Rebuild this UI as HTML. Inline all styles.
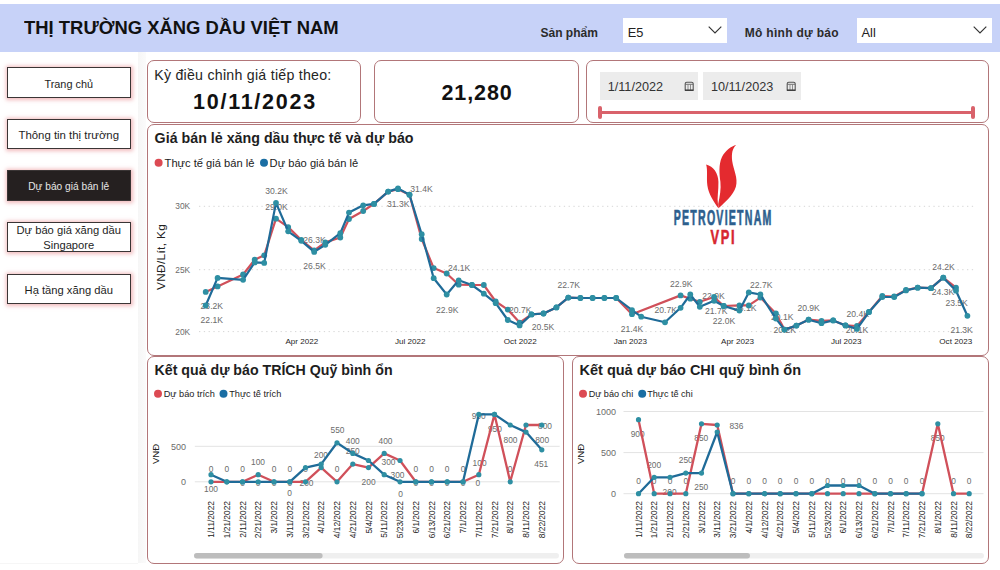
<!DOCTYPE html><html><head><meta charset="utf-8"><style>
*{margin:0;padding:0;box-sizing:border-box}
html,body{width:1000px;height:570px;overflow:hidden;background:#fff;font-family:'Liberation Sans',sans-serif;}
.abs{position:absolute}
.card{position:absolute;border:1px solid #b27679;border-radius:7px;background:#fff}
.btn{position:absolute;left:6.5px;width:124.5px;border:1.3px solid #3a3535;background:#fff;box-shadow:0 0 4px 1.5px rgba(232,140,145,.6);color:#1e1e1e;text-align:center;white-space:nowrap}
.t{position:absolute;white-space:nowrap;line-height:1}
</style></head><body>

<div class="abs" style="left:0;top:4px;width:1000px;height:48px;background:#c7d2f8"></div>
<div class="t" style="left:23.5px;top:18px;font-size:19px;font-weight:bold;color:#111;transform:scaleX(0.97);transform-origin:0 0">THỊ TRƯỜNG XĂNG DẦU VIỆT NAM</div>
<div class="t" style="left:540.5px;top:27px;font-size:12px;font-weight:bold;color:#2b2b2b">Sản phẩm</div>
<div class="t" style="left:744.7px;top:27px;font-size:12px;font-weight:bold;color:#2b2b2b;letter-spacing:0.3px">Mô hình dự báo</div>
<div class="abs" style="left:623px;top:17.5px;width:103.5px;height:25px;background:#fff"></div>
<div class="t" style="left:627.8px;top:27px;font-size:12.8px;color:#222">E5</div>
<svg class="abs" style="left:707.5px;top:26px" width="14" height="8"><path d="M0.7 0.7 L7 7 L13.3 0.7" fill="none" stroke="#333" stroke-width="1.15"/></svg>
<div class="abs" style="left:856.7px;top:17.5px;width:134.89999999999998px;height:25px;background:#fff"></div>
<div class="t" style="left:861.5px;top:27px;font-size:12.8px;color:#222">All</div>
<svg class="abs" style="left:972.6px;top:26px" width="14" height="8"><path d="M0.7 0.7 L7 7 L13.3 0.7" fill="none" stroke="#333" stroke-width="1.15"/></svg>
<div class="abs" style="left:137.5px;top:52px;width:8px;height:511px;background:linear-gradient(90deg,#f6f6f6,#fbfbfb)"></div>
<div class="abs" style="left:0;top:562.5px;width:137.5px;height:1.5px;background:#f6f6f6"></div>
<div class="btn" style="top:67px;height:31px;font-size:10.9px;"><div style="padding-top:9.5px">Trang chủ</div></div>
<div class="btn" style="top:118.8px;height:30.700000000000003px;font-size:11.4px;"><div style="padding-top:9px">Thông tin thị trường</div></div>
<div class="btn" style="top:170px;height:31px;font-size:10.2px;background:#252020;color:#e6e6e6;"><div style="padding-top:10px">Dự báo giá bán lẻ</div></div>
<div class="btn" style="top:222.3px;height:30.19999999999999px;font-size:11.2px;"><div style="padding-top:0px;line-height:15px">Dự báo giá xăng dầu<br>Singapore</div></div>
<div class="btn" style="top:273.5px;height:30.5px;font-size:11.2px;"><div style="padding-top:9px">Hạ tầng xăng dầu</div></div>
<div class="card" style="left:147.4px;top:60.4px;width:213.4px;height:62.4px"></div>
<div class="t" style="left:154.2px;top:67.5px;font-size:14.2px;color:#252525;letter-spacing:0.25px">Kỳ điều chỉnh giá tiếp theo:</div>
<div class="t" style="left:193px;top:92px;font-size:21.5px;font-weight:bold;color:#111;letter-spacing:1.75px">10/11/2023</div>
<div class="card" style="left:374.4px;top:60.4px;width:204.5px;height:62.4px"></div>
<div class="t" style="left:441.5px;top:83px;font-size:21.5px;font-weight:bold;color:#111;letter-spacing:0.9px">21,280</div>
<div class="card" style="left:586.4px;top:60.4px;width:402.4px;height:62.4px"></div>
<div class="abs" style="left:600px;top:72px;width:98.29999999999995px;height:28.2px;background:#ececec"></div>
<div class="t" style="left:607.7px;top:81.2px;font-size:12.66px;color:#333">1/11/2022</div>
<svg class="abs" style="left:683.5px;top:80.8px" width="11" height="11"><path d="M1.2 2.8 Q1.2 1.2 2.8 1.2 L7.6 1.2 Q9.2 1.2 9.2 2.8 L9.2 9.3 L1.2 9.3 Z" fill="none" stroke="#555" stroke-width="1.1"/><line x1="1.2" y1="3.3" x2="9.2" y2="3.3" stroke="#666" stroke-width="0.9"/><line x1="4" y1="3.5" x2="4" y2="9" stroke="#777" stroke-width="0.8"/><line x1="6.5" y1="3.5" x2="6.5" y2="9" stroke="#777" stroke-width="0.8"/><line x1="1" y1="9.2" x2="9.4" y2="9.2" stroke="#333" stroke-width="1.2"/></svg>
<div class="abs" style="left:703.2px;top:72px;width:97.39999999999998px;height:28.2px;background:#ececec"></div>
<div class="t" style="left:710.9000000000001px;top:81.2px;font-size:12.66px;color:#333">10/11/2023</div>
<svg class="abs" style="left:785.8000000000001px;top:80.8px" width="11" height="11"><path d="M1.2 2.8 Q1.2 1.2 2.8 1.2 L7.6 1.2 Q9.2 1.2 9.2 2.8 L9.2 9.3 L1.2 9.3 Z" fill="none" stroke="#555" stroke-width="1.1"/><line x1="1.2" y1="3.3" x2="9.2" y2="3.3" stroke="#666" stroke-width="0.9"/><line x1="4" y1="3.5" x2="4" y2="9" stroke="#777" stroke-width="0.8"/><line x1="6.5" y1="3.5" x2="6.5" y2="9" stroke="#777" stroke-width="0.8"/><line x1="1" y1="9.2" x2="9.4" y2="9.2" stroke="#333" stroke-width="1.2"/></svg>
<div class="abs" style="left:600px;top:111px;width:375px;height:3px;background:#d9626b"></div>
<div class="abs" style="left:598.2px;top:106.3px;width:4px;height:13px;border-radius:2px;background:#d9626b"></div>
<div class="abs" style="left:971.3px;top:106.3px;width:4px;height:13px;border-radius:2px;background:#d9626b"></div>
<div class="card" style="left:147.2px;top:124px;width:842.3px;height:232px"></div>
<div class="card" style="left:147.2px;top:356.3px;width:417.2px;height:207.7px"></div>
<div class="card" style="left:572.1px;top:356.3px;width:417.4px;height:207.7px"></div>
<div class="t" style="left:154.6px;top:130.5px;font-size:14.25px;font-weight:bold;color:#1e1e1e">Giá bán lẻ xăng dầu thực tế và dự báo</div>
<div class="t" style="left:154.5px;top:363.2px;font-size:14.2px;font-weight:bold;color:#1e1e1e">Kết quả dự báo TRÍCH Quỹ bình ổn</div>
<div class="t" style="left:579.5px;top:363.2px;font-size:14.5px;font-weight:bold;color:#1e1e1e">Kết quả dự báo CHI quỹ bình ổn</div>
<svg class="abs" style="left:0;top:0" width="1000" height="570" viewBox="0 0 1000 570" font-family="Liberation Sans, sans-serif"><circle cx="158.6" cy="162.8" r="4" fill="#dc4a53"/><text x="164.6" y="166.8" font-size="11.15" fill="#222">Thực tế giá bán lẻ</text><circle cx="264" cy="162.8" r="4" fill="#1a6ea3"/><text x="269.6" y="166.8" font-size="11.15" fill="#222">Dự báo giá bán lẻ</text><circle cx="158" cy="393.8" r="4" fill="#dc4a53"/><text x="163.7" y="397.1" font-size="9.2" fill="#222">Dự báo trích</text><circle cx="223.5" cy="393.8" r="4" fill="#1a6ea3"/><text x="229.2" y="397.1" font-size="9.2" fill="#222">Thực tế trích</text><circle cx="583" cy="393.8" r="4" fill="#dc4a53"/><text x="588.7" y="397.1" font-size="9.1" fill="#222">Dự báo chi</text><circle cx="642.2" cy="393.8" r="4" fill="#1a6ea3"/><text x="647.2" y="397.1" font-size="9.1" fill="#222">Thực tế chi</text><line x1="199" y1="206.3" x2="973.5" y2="206.3" stroke="#d6d6d6" stroke-width="1" stroke-dasharray="1.3 3.5"/><text x="190.2" y="209.3" font-size="8.4" fill="#6b6b6b" text-anchor="end">30K</text><line x1="199" y1="269.7" x2="973.5" y2="269.7" stroke="#d6d6d6" stroke-width="1" stroke-dasharray="1.3 3.5"/><text x="190.2" y="272.7" font-size="8.4" fill="#6b6b6b" text-anchor="end">25K</text><line x1="199" y1="331.6" x2="973.5" y2="331.6" stroke="#d6d6d6" stroke-width="1" stroke-dasharray="1.3 3.5"/><text x="190.2" y="334.6" font-size="8.4" fill="#6b6b6b" text-anchor="end">20K</text><text transform="translate(165 257) rotate(-90)" font-size="11.8" letter-spacing="0.35" fill="#222" text-anchor="middle">VNĐ/Lít, Kg</text><text x="285.4" y="343.7" font-size="8.1" fill="#1e1e1e">Apr 2022</text><text x="395" y="343.7" font-size="8.1" fill="#1e1e1e">Jul 2022</text><text x="503.8" y="343.7" font-size="8.1" fill="#1e1e1e">Oct 2022</text><text x="613.8" y="343.7" font-size="8.1" fill="#1e1e1e">Jan 2023</text><text x="721.1" y="343.7" font-size="8.1" fill="#1e1e1e">Apr 2023</text><text x="831" y="343.7" font-size="8.1" fill="#1e1e1e">Jul 2023</text><text x="939.3" y="343.7" font-size="8.1" fill="#1e1e1e">Oct 2023</text><text x="265.3" y="194.2" font-size="8.6" fill="#6b6b6b">30.2K</text><text x="265.3" y="210" font-size="8.6" fill="#6b6b6b">29.0K</text><text x="303.2" y="243.2" font-size="8.6" fill="#6b6b6b">26.3K</text><text x="303.2" y="268.5" font-size="8.6" fill="#6b6b6b">26.5K</text><text x="200.6" y="309" font-size="8.6" fill="#6b6b6b">23.2K</text><text x="200.6" y="323.3" font-size="8.6" fill="#6b6b6b">22.1K</text><text x="410.3" y="192.4" font-size="8.6" fill="#6b6b6b">31.4K</text><text x="387" y="207.4" font-size="8.6" fill="#6b6b6b">31.3K</text><text x="447.9" y="271.3" font-size="8.6" fill="#6b6b6b">24.1K</text><text x="436" y="312.7" font-size="8.6" fill="#6b6b6b">22.9K</text><text x="509" y="312.8" font-size="8.6" fill="#6b6b6b">20.7K</text><text x="531.8" y="329.9" font-size="8.6" fill="#6b6b6b">20.5K</text><text x="557.5" y="288.2" font-size="8.6" fill="#6b6b6b">22.7K</text><text x="620.8" y="332.4" font-size="8.6" fill="#6b6b6b">21.4K</text><text x="654.5" y="312.8" font-size="8.6" fill="#6b6b6b">20.7K</text><text x="670" y="286.8" font-size="8.6" fill="#6b6b6b">22.9K</text><text x="702.2" y="298.7" font-size="8.6" fill="#6b6b6b">22.9K</text><text x="705" y="314.4" font-size="8.6" fill="#6b6b6b">21.7K</text><text x="712.7" y="324.2" font-size="8.6" fill="#6b6b6b">22.0K</text><text x="734" y="310.6" font-size="8.6" fill="#6b6b6b">23.1K</text><text x="750" y="288.2" font-size="8.6" fill="#6b6b6b">22.7K</text><text x="771" y="320.4" font-size="8.6" fill="#6b6b6b">20.1K</text><text x="773.5" y="333" font-size="8.6" fill="#6b6b6b">20.2K</text><text x="797.4" y="311.3" font-size="8.6" fill="#6b6b6b">20.9K</text><text x="846.5" y="317" font-size="8.6" fill="#6b6b6b">20.4K</text><text x="845.8" y="333" font-size="8.6" fill="#6b6b6b">20.1K</text><text x="932.3" y="269.6" font-size="8.6" fill="#6b6b6b">24.2K</text><text x="931.8" y="295.3" font-size="8.6" fill="#6b6b6b">24.3K</text><text x="945.4" y="305.8" font-size="8.6" fill="#6b6b6b">23.5K</text><text x="950.4" y="333.3" font-size="8.6" fill="#6b6b6b">21.3K</text><polyline points="205.7,291.9 217.6,286.4 243.1,274.5 254.7,259.7 264.2,255.3 276.0,218.7 288.2,227.1 301.3,240.0 314.2,250.3 325.3,242.4 340.3,237.5 349.0,219.0 363.2,211.0 374.0,203.9 388.2,191.6 398.0,189.2 409.5,194.7 421.7,239.0 433.7,268.1 446.7,273.5 458.7,284.7 471.9,285.0 483.8,285.0 495.7,301.5 507.8,309.6 519.6,322.6 531.5,314.4 543.5,313.5 556.4,307.4 568.3,297.6 580.4,298.0 592.6,298.0 604.4,298.0 616.2,298.0 632.0,314.2 680.6,295.4 690.3,298.7 699.8,301.8 714.1,297.0 723.7,306.0 739.4,305.4 748.8,305.4 760.4,297.6 775.9,313.4 784.5,329.6 796.4,325.6 808.6,319.7 821.5,320.9 833.2,320.4 845.5,325.4 857.0,326.0 869.0,312.0 882.3,296.0 894.2,296.5 906.0,290.0 917.7,287.7 931.0,288.2 943.3,277.7 956.0,287.7" fill="none" stroke="#d0505a" stroke-width="2.2" stroke-linejoin="round" stroke-linecap="round"/><circle cx="205.7" cy="291.9" r="2.9" fill="#2e8fa3"/><circle cx="217.6" cy="286.4" r="2.9" fill="#2e8fa3"/><circle cx="243.1" cy="274.5" r="2.9" fill="#2e8fa3"/><circle cx="254.7" cy="259.7" r="2.9" fill="#2e8fa3"/><circle cx="264.2" cy="255.3" r="2.9" fill="#2e8fa3"/><circle cx="276.0" cy="218.7" r="2.9" fill="#2e8fa3"/><circle cx="288.2" cy="227.1" r="2.9" fill="#2e8fa3"/><circle cx="301.3" cy="240.0" r="2.9" fill="#2e8fa3"/><circle cx="314.2" cy="250.3" r="2.9" fill="#2e8fa3"/><circle cx="325.3" cy="242.4" r="2.9" fill="#2e8fa3"/><circle cx="340.3" cy="237.5" r="2.9" fill="#2e8fa3"/><circle cx="349.0" cy="219.0" r="2.9" fill="#2e8fa3"/><circle cx="363.2" cy="211.0" r="2.9" fill="#2e8fa3"/><circle cx="374.0" cy="203.9" r="2.9" fill="#2e8fa3"/><circle cx="388.2" cy="191.6" r="2.9" fill="#2e8fa3"/><circle cx="398.0" cy="189.2" r="2.9" fill="#2e8fa3"/><circle cx="409.5" cy="194.7" r="2.9" fill="#2e8fa3"/><circle cx="421.7" cy="239.0" r="2.9" fill="#2e8fa3"/><circle cx="433.7" cy="268.1" r="2.9" fill="#2e8fa3"/><circle cx="446.7" cy="273.5" r="2.9" fill="#2e8fa3"/><circle cx="458.7" cy="284.7" r="2.9" fill="#2e8fa3"/><circle cx="471.9" cy="285.0" r="2.9" fill="#2e8fa3"/><circle cx="483.8" cy="285.0" r="2.9" fill="#2e8fa3"/><circle cx="495.7" cy="301.5" r="2.9" fill="#2e8fa3"/><circle cx="507.8" cy="309.6" r="2.9" fill="#2e8fa3"/><circle cx="519.6" cy="322.6" r="2.9" fill="#2e8fa3"/><circle cx="531.5" cy="314.4" r="2.9" fill="#2e8fa3"/><circle cx="543.5" cy="313.5" r="2.9" fill="#2e8fa3"/><circle cx="556.4" cy="307.4" r="2.9" fill="#2e8fa3"/><circle cx="568.3" cy="297.6" r="2.9" fill="#2e8fa3"/><circle cx="580.4" cy="298.0" r="2.9" fill="#2e8fa3"/><circle cx="592.6" cy="298.0" r="2.9" fill="#2e8fa3"/><circle cx="604.4" cy="298.0" r="2.9" fill="#2e8fa3"/><circle cx="616.2" cy="298.0" r="2.9" fill="#2e8fa3"/><circle cx="632.0" cy="314.2" r="2.9" fill="#2e8fa3"/><circle cx="680.6" cy="295.4" r="2.9" fill="#2e8fa3"/><circle cx="690.3" cy="298.7" r="2.9" fill="#2e8fa3"/><circle cx="699.8" cy="301.8" r="2.9" fill="#2e8fa3"/><circle cx="714.1" cy="297.0" r="2.9" fill="#2e8fa3"/><circle cx="723.7" cy="306.0" r="2.9" fill="#2e8fa3"/><circle cx="739.4" cy="305.4" r="2.9" fill="#2e8fa3"/><circle cx="748.8" cy="305.4" r="2.9" fill="#2e8fa3"/><circle cx="760.4" cy="297.6" r="2.9" fill="#2e8fa3"/><circle cx="775.9" cy="313.4" r="2.9" fill="#2e8fa3"/><circle cx="784.5" cy="329.6" r="2.9" fill="#2e8fa3"/><circle cx="796.4" cy="325.6" r="2.9" fill="#2e8fa3"/><circle cx="808.6" cy="319.7" r="2.9" fill="#2e8fa3"/><circle cx="821.5" cy="320.9" r="2.9" fill="#2e8fa3"/><circle cx="833.2" cy="320.4" r="2.9" fill="#2e8fa3"/><circle cx="845.5" cy="325.4" r="2.9" fill="#2e8fa3"/><circle cx="857.0" cy="326.0" r="2.9" fill="#2e8fa3"/><circle cx="869.0" cy="312.0" r="2.9" fill="#2e8fa3"/><circle cx="882.3" cy="296.0" r="2.9" fill="#2e8fa3"/><circle cx="894.2" cy="296.5" r="2.9" fill="#2e8fa3"/><circle cx="906.0" cy="290.0" r="2.9" fill="#2e8fa3"/><circle cx="917.7" cy="287.7" r="2.9" fill="#2e8fa3"/><circle cx="931.0" cy="288.2" r="2.9" fill="#2e8fa3"/><circle cx="943.3" cy="277.7" r="2.9" fill="#2e8fa3"/><circle cx="956.0" cy="287.7" r="2.9" fill="#2e8fa3"/><polyline points="205.7,305.5 217.6,277.9 243.1,279.8 254.7,262.4 264.2,262.9 276.0,202.9 288.2,231.3 301.3,240.8 314.2,251.9 325.3,244.8 340.3,233.2 349.0,212.6 363.2,205.3 374.0,203.9 388.2,191.6 398.0,188.4 409.5,194.7 421.7,234.2 433.7,278.2 446.7,294.5 458.7,280.3 471.9,285.0 483.8,293.7 495.7,303.2 507.8,320.0 519.6,325.4 531.5,314.4 543.5,313.5 556.4,307.4 568.3,297.6 580.4,298.0 592.6,298.0 604.4,298.0 616.2,298.0 632.0,310.2 641.2,316.7 665.0,322.3 680.6,307.8 690.3,294.5 699.8,306.8 714.1,300.8 723.7,306.0 739.4,310.6 748.8,292.4 760.4,294.5 775.9,318.6 784.5,329.6 796.4,325.6 808.6,319.7 821.5,323.2 833.2,320.4 845.5,325.4 857.0,328.9 869.0,312.0 882.3,297.0 894.2,297.0 906.0,290.4 917.7,287.7 931.0,288.2 943.3,277.7 956.0,290.7 967.4,315.8" fill="none" stroke="#1f6b98" stroke-width="2.2" stroke-linejoin="round" stroke-linecap="round"/><circle cx="205.7" cy="305.5" r="2.9" fill="#2e8fa3"/><circle cx="217.6" cy="277.9" r="2.9" fill="#2e8fa3"/><circle cx="243.1" cy="279.8" r="2.9" fill="#2e8fa3"/><circle cx="254.7" cy="262.4" r="2.9" fill="#2e8fa3"/><circle cx="264.2" cy="262.9" r="2.9" fill="#2e8fa3"/><circle cx="276.0" cy="202.9" r="2.9" fill="#2e8fa3"/><circle cx="288.2" cy="231.3" r="2.9" fill="#2e8fa3"/><circle cx="301.3" cy="240.8" r="2.9" fill="#2e8fa3"/><circle cx="314.2" cy="251.9" r="2.9" fill="#2e8fa3"/><circle cx="325.3" cy="244.8" r="2.9" fill="#2e8fa3"/><circle cx="340.3" cy="233.2" r="2.9" fill="#2e8fa3"/><circle cx="349.0" cy="212.6" r="2.9" fill="#2e8fa3"/><circle cx="363.2" cy="205.3" r="2.9" fill="#2e8fa3"/><circle cx="374.0" cy="203.9" r="2.9" fill="#2e8fa3"/><circle cx="388.2" cy="191.6" r="2.9" fill="#2e8fa3"/><circle cx="398.0" cy="188.4" r="2.9" fill="#2e8fa3"/><circle cx="409.5" cy="194.7" r="2.9" fill="#2e8fa3"/><circle cx="421.7" cy="234.2" r="2.9" fill="#2e8fa3"/><circle cx="433.7" cy="278.2" r="2.9" fill="#2e8fa3"/><circle cx="446.7" cy="294.5" r="2.9" fill="#2e8fa3"/><circle cx="458.7" cy="280.3" r="2.9" fill="#2e8fa3"/><circle cx="471.9" cy="285.0" r="2.9" fill="#2e8fa3"/><circle cx="483.8" cy="293.7" r="2.9" fill="#2e8fa3"/><circle cx="495.7" cy="303.2" r="2.9" fill="#2e8fa3"/><circle cx="507.8" cy="320.0" r="2.9" fill="#2e8fa3"/><circle cx="519.6" cy="325.4" r="2.9" fill="#2e8fa3"/><circle cx="531.5" cy="314.4" r="2.9" fill="#2e8fa3"/><circle cx="543.5" cy="313.5" r="2.9" fill="#2e8fa3"/><circle cx="556.4" cy="307.4" r="2.9" fill="#2e8fa3"/><circle cx="568.3" cy="297.6" r="2.9" fill="#2e8fa3"/><circle cx="580.4" cy="298.0" r="2.9" fill="#2e8fa3"/><circle cx="592.6" cy="298.0" r="2.9" fill="#2e8fa3"/><circle cx="604.4" cy="298.0" r="2.9" fill="#2e8fa3"/><circle cx="616.2" cy="298.0" r="2.9" fill="#2e8fa3"/><circle cx="632.0" cy="310.2" r="2.9" fill="#2e8fa3"/><circle cx="641.2" cy="316.7" r="2.9" fill="#2e8fa3"/><circle cx="665.0" cy="322.3" r="2.9" fill="#2e8fa3"/><circle cx="680.6" cy="307.8" r="2.9" fill="#2e8fa3"/><circle cx="690.3" cy="294.5" r="2.9" fill="#2e8fa3"/><circle cx="699.8" cy="306.8" r="2.9" fill="#2e8fa3"/><circle cx="714.1" cy="300.8" r="2.9" fill="#2e8fa3"/><circle cx="723.7" cy="306.0" r="2.9" fill="#2e8fa3"/><circle cx="739.4" cy="310.6" r="2.9" fill="#2e8fa3"/><circle cx="748.8" cy="292.4" r="2.9" fill="#2e8fa3"/><circle cx="760.4" cy="294.5" r="2.9" fill="#2e8fa3"/><circle cx="775.9" cy="318.6" r="2.9" fill="#2e8fa3"/><circle cx="784.5" cy="329.6" r="2.9" fill="#2e8fa3"/><circle cx="796.4" cy="325.6" r="2.9" fill="#2e8fa3"/><circle cx="808.6" cy="319.7" r="2.9" fill="#2e8fa3"/><circle cx="821.5" cy="323.2" r="2.9" fill="#2e8fa3"/><circle cx="833.2" cy="320.4" r="2.9" fill="#2e8fa3"/><circle cx="845.5" cy="325.4" r="2.9" fill="#2e8fa3"/><circle cx="857.0" cy="328.9" r="2.9" fill="#2e8fa3"/><circle cx="869.0" cy="312.0" r="2.9" fill="#2e8fa3"/><circle cx="882.3" cy="297.0" r="2.9" fill="#2e8fa3"/><circle cx="894.2" cy="297.0" r="2.9" fill="#2e8fa3"/><circle cx="906.0" cy="290.4" r="2.9" fill="#2e8fa3"/><circle cx="917.7" cy="287.7" r="2.9" fill="#2e8fa3"/><circle cx="931.0" cy="288.2" r="2.9" fill="#2e8fa3"/><circle cx="943.3" cy="277.7" r="2.9" fill="#2e8fa3"/><circle cx="956.0" cy="290.7" r="2.9" fill="#2e8fa3"/><circle cx="967.4" cy="315.8" r="2.9" fill="#2e8fa3"/><g transform="translate(700 140) scale(0.12285)"><path d="M295,38 C255,50 205,85 178,140 C150,200 158,280 166,340 C172,400 162,460 148,520 L150,556 C200,510 270,450 292,380 C312,310 272,240 262,170 C256,110 262,70 295,38 Z" fill="#e42a2f"/><path d="M50,200 C64,250 52,310 60,370 C70,440 110,500 150,556 L146,520 C138,470 152,410 150,340 C148,270 110,215 50,200 Z" fill="#e42a2f"/></g><text transform="translate(673.7 225) scale(0.493 1)" font-size="21.5" letter-spacing="2.5" font-weight="bold" fill="#2d5f8e" stroke="#2d5f8e" stroke-width="0.7">PETROVIETNAM</text><text transform="translate(710.5 244.2) scale(0.645 1)" font-size="20" letter-spacing="2.5" font-weight="bold" fill="#d7262f" stroke="#d7262f" stroke-width="0.6">VPI</text><line x1="194.8" y1="481.8" x2="559.7" y2="481.8" stroke="#e3e3e3" stroke-width="1"/><text x="186" y="485.0" font-size="9" fill="#6b6b6b" text-anchor="end">0</text><line x1="194.8" y1="446.3" x2="559.7" y2="446.3" stroke="#e3e3e3" stroke-width="1"/><text x="186" y="449.5" font-size="9" fill="#6b6b6b" text-anchor="end">500</text><text transform="translate(158.5 453.9) rotate(-90)" font-size="9.6" fill="#222" text-anchor="middle">VNĐ</text><text transform="translate(214.0 501) rotate(-90)" font-size="8.4" fill="#222" text-anchor="end">1/11/2022</text><text transform="translate(229.8 501) rotate(-90)" font-size="8.4" fill="#222" text-anchor="end">1/21/2022</text><text transform="translate(245.5 501) rotate(-90)" font-size="8.4" fill="#222" text-anchor="end">2/11/2022</text><text transform="translate(261.2 501) rotate(-90)" font-size="8.4" fill="#222" text-anchor="end">2/21/2022</text><text transform="translate(277.0 501) rotate(-90)" font-size="8.4" fill="#222" text-anchor="end">3/1/2022</text><text transform="translate(292.8 501) rotate(-90)" font-size="8.4" fill="#222" text-anchor="end">3/11/2022</text><text transform="translate(308.5 501) rotate(-90)" font-size="8.4" fill="#222" text-anchor="end">3/21/2022</text><text transform="translate(324.2 501) rotate(-90)" font-size="8.4" fill="#222" text-anchor="end">4/1/2022</text><text transform="translate(340.0 501) rotate(-90)" font-size="8.4" fill="#222" text-anchor="end">4/12/2022</text><text transform="translate(355.8 501) rotate(-90)" font-size="8.4" fill="#222" text-anchor="end">4/21/2022</text><text transform="translate(371.5 501) rotate(-90)" font-size="8.4" fill="#222" text-anchor="end">5/4/2022</text><text transform="translate(387.2 501) rotate(-90)" font-size="8.4" fill="#222" text-anchor="end">5/11/2022</text><text transform="translate(403.0 501) rotate(-90)" font-size="8.4" fill="#222" text-anchor="end">5/23/2022</text><text transform="translate(418.8 501) rotate(-90)" font-size="8.4" fill="#222" text-anchor="end">6/1/2022</text><text transform="translate(434.5 501) rotate(-90)" font-size="8.4" fill="#222" text-anchor="end">6/13/2022</text><text transform="translate(450.2 501) rotate(-90)" font-size="8.4" fill="#222" text-anchor="end">6/21/2022</text><text transform="translate(466.0 501) rotate(-90)" font-size="8.4" fill="#222" text-anchor="end">7/1/2022</text><text transform="translate(481.8 501) rotate(-90)" font-size="8.4" fill="#222" text-anchor="end">7/11/2022</text><text transform="translate(497.5 501) rotate(-90)" font-size="8.4" fill="#222" text-anchor="end">7/21/2022</text><text transform="translate(513.2 501) rotate(-90)" font-size="8.4" fill="#222" text-anchor="end">8/1/2022</text><text transform="translate(529.0 501) rotate(-90)" font-size="8.4" fill="#222" text-anchor="end">8/11/2022</text><text transform="translate(544.8 501) rotate(-90)" font-size="8.4" fill="#222" text-anchor="end">8/22/2022</text><text x="211.0" y="471.7" font-size="8.4" fill="#6b6b6b" text-anchor="middle">0</text><text x="226.8" y="471.7" font-size="8.4" fill="#6b6b6b" text-anchor="middle">0</text><text x="242.5" y="471.7" font-size="8.4" fill="#6b6b6b" text-anchor="middle">0</text><text x="274.0" y="471.7" font-size="8.4" fill="#6b6b6b" text-anchor="middle">0</text><text x="289.8" y="471.7" font-size="8.4" fill="#6b6b6b" text-anchor="middle">0</text><text x="305.5" y="471.7" font-size="8.4" fill="#6b6b6b" text-anchor="middle">0</text><text x="337.0" y="471.7" font-size="8.4" fill="#6b6b6b" text-anchor="middle">0</text><text x="415.8" y="471.7" font-size="8.4" fill="#6b6b6b" text-anchor="middle">0</text><text x="431.5" y="471.7" font-size="8.4" fill="#6b6b6b" text-anchor="middle">0</text><text x="447.2" y="471.7" font-size="8.4" fill="#6b6b6b" text-anchor="middle">0</text><text x="463.0" y="471.7" font-size="8.4" fill="#6b6b6b" text-anchor="middle">0</text><text x="242.5" y="485.7" font-size="8.4" fill="#6b6b6b" text-anchor="middle">0</text><text x="258.2" y="485.7" font-size="8.4" fill="#6b6b6b" text-anchor="middle">0</text><text x="274.0" y="485.7" font-size="8.4" fill="#6b6b6b" text-anchor="middle">0</text><text x="289.8" y="485.7" font-size="8.4" fill="#6b6b6b" text-anchor="middle">0</text><text x="415.8" y="485.7" font-size="8.4" fill="#6b6b6b" text-anchor="middle">0</text><text x="431.5" y="485.7" font-size="8.4" fill="#6b6b6b" text-anchor="middle">0</text><text x="447.2" y="485.7" font-size="8.4" fill="#6b6b6b" text-anchor="middle">0</text><text x="463.0" y="485.7" font-size="8.4" fill="#6b6b6b" text-anchor="middle">0</text><text x="211" y="492.3" font-size="8.4" fill="#6b6b6b" text-anchor="middle">100</text><text x="289.5" y="496.2" font-size="8.4" fill="#6b6b6b" text-anchor="middle">0</text><text x="258" y="465" font-size="8.4" fill="#6b6b6b" text-anchor="middle">100</text><text x="306.5" y="485.7" font-size="8.4" fill="#6b6b6b" text-anchor="middle">200</text><text x="321" y="458.2" font-size="8.4" fill="#6b6b6b" text-anchor="middle">200</text><text x="337.5" y="433.2" font-size="8.4" fill="#6b6b6b" text-anchor="middle">550</text><text x="352.8" y="443.9" font-size="8.4" fill="#6b6b6b" text-anchor="middle">400</text><text x="352.8" y="454.4" font-size="8.4" fill="#6b6b6b" text-anchor="middle">250</text><text x="368.6" y="485" font-size="8.4" fill="#6b6b6b" text-anchor="middle">200</text><text x="397.5" y="478" font-size="8.4" fill="#6b6b6b" text-anchor="middle">300</text><text x="385.5" y="443.9" font-size="8.4" fill="#6b6b6b" text-anchor="middle">400</text><text x="388.5" y="465" font-size="8.4" fill="#6b6b6b" text-anchor="middle">300</text><text x="400.5" y="496.5" font-size="8.4" fill="#6b6b6b" text-anchor="middle">0</text><text x="478.7" y="419" font-size="8.4" fill="#6b6b6b" text-anchor="middle">950</text><text x="479.6" y="465.5" font-size="8.4" fill="#6b6b6b" text-anchor="middle">100</text><text x="477.8" y="486.2" font-size="8.4" fill="#6b6b6b" text-anchor="middle">0</text><text x="494.9" y="431.5" font-size="8.4" fill="#6b6b6b" text-anchor="middle">950</text><text x="510.5" y="442.5" font-size="8.4" fill="#6b6b6b" text-anchor="middle">800</text><text x="510" y="472.3" font-size="8.4" fill="#6b6b6b" text-anchor="middle">0</text><text x="545" y="429" font-size="8.4" fill="#6b6b6b" text-anchor="middle">800</text><text x="542.2" y="442.5" font-size="8.4" fill="#6b6b6b" text-anchor="middle">800</text><text x="541.3" y="467.2" font-size="8.4" fill="#6b6b6b" text-anchor="middle">451</text><polyline points="211.0,481.8 226.8,481.8 242.5,481.8 258.2,474.7 274.0,481.8 289.8,481.8 305.5,481.8 321.2,467.6 337.0,481.8 352.8,464.1 368.5,467.6 384.2,453.4 400.0,460.5 415.8,481.8 431.5,481.8 447.2,481.8 463.0,481.8 478.8,474.7 494.5,414.4 510.2,481.8 526.0,425.0 541.8,425.0" fill="none" stroke="#d0505a" stroke-width="2.3" stroke-linejoin="round" stroke-linecap="round"/><circle cx="211.0" cy="481.8" r="2.6" fill="#2e8fa3"/><circle cx="226.8" cy="481.8" r="2.6" fill="#2e8fa3"/><circle cx="242.5" cy="481.8" r="2.6" fill="#2e8fa3"/><circle cx="258.2" cy="474.7" r="2.6" fill="#2e8fa3"/><circle cx="274.0" cy="481.8" r="2.6" fill="#2e8fa3"/><circle cx="289.8" cy="481.8" r="2.6" fill="#2e8fa3"/><circle cx="305.5" cy="481.8" r="2.6" fill="#2e8fa3"/><circle cx="321.2" cy="467.6" r="2.6" fill="#2e8fa3"/><circle cx="337.0" cy="481.8" r="2.6" fill="#2e8fa3"/><circle cx="352.8" cy="464.1" r="2.6" fill="#2e8fa3"/><circle cx="368.5" cy="467.6" r="2.6" fill="#2e8fa3"/><circle cx="384.2" cy="453.4" r="2.6" fill="#2e8fa3"/><circle cx="400.0" cy="460.5" r="2.6" fill="#2e8fa3"/><circle cx="415.8" cy="481.8" r="2.6" fill="#2e8fa3"/><circle cx="431.5" cy="481.8" r="2.6" fill="#2e8fa3"/><circle cx="447.2" cy="481.8" r="2.6" fill="#2e8fa3"/><circle cx="463.0" cy="481.8" r="2.6" fill="#2e8fa3"/><circle cx="478.8" cy="474.7" r="2.6" fill="#2e8fa3"/><circle cx="494.5" cy="414.4" r="2.6" fill="#2e8fa3"/><circle cx="510.2" cy="481.8" r="2.6" fill="#2e8fa3"/><circle cx="526.0" cy="425.0" r="2.6" fill="#2e8fa3"/><circle cx="541.8" cy="425.0" r="2.6" fill="#2e8fa3"/><polyline points="211.0,474.7 226.8,481.8 242.5,481.8 258.2,481.8 274.0,481.8 289.8,481.8 305.5,467.6 321.2,464.1 337.0,442.8 352.8,453.4 368.5,460.5 384.2,474.7 400.0,481.8 415.8,481.8 431.5,481.8 447.2,481.8 463.0,481.8 478.8,414.4 494.5,414.4 510.2,425.0 526.0,432.1 541.8,449.8" fill="none" stroke="#1f6b98" stroke-width="2.3" stroke-linejoin="round" stroke-linecap="round"/><circle cx="211.0" cy="474.7" r="2.6" fill="#2e8fa3"/><circle cx="226.8" cy="481.8" r="2.6" fill="#2e8fa3"/><circle cx="242.5" cy="481.8" r="2.6" fill="#2e8fa3"/><circle cx="258.2" cy="481.8" r="2.6" fill="#2e8fa3"/><circle cx="274.0" cy="481.8" r="2.6" fill="#2e8fa3"/><circle cx="289.8" cy="481.8" r="2.6" fill="#2e8fa3"/><circle cx="305.5" cy="467.6" r="2.6" fill="#2e8fa3"/><circle cx="321.2" cy="464.1" r="2.6" fill="#2e8fa3"/><circle cx="337.0" cy="442.8" r="2.6" fill="#2e8fa3"/><circle cx="352.8" cy="453.4" r="2.6" fill="#2e8fa3"/><circle cx="368.5" cy="460.5" r="2.6" fill="#2e8fa3"/><circle cx="384.2" cy="474.7" r="2.6" fill="#2e8fa3"/><circle cx="400.0" cy="481.8" r="2.6" fill="#2e8fa3"/><circle cx="415.8" cy="481.8" r="2.6" fill="#2e8fa3"/><circle cx="431.5" cy="481.8" r="2.6" fill="#2e8fa3"/><circle cx="447.2" cy="481.8" r="2.6" fill="#2e8fa3"/><circle cx="463.0" cy="481.8" r="2.6" fill="#2e8fa3"/><circle cx="478.8" cy="414.4" r="2.6" fill="#2e8fa3"/><circle cx="494.5" cy="414.4" r="2.6" fill="#2e8fa3"/><circle cx="510.2" cy="425.0" r="2.6" fill="#2e8fa3"/><circle cx="526.0" cy="432.1" r="2.6" fill="#2e8fa3"/><circle cx="541.8" cy="449.8" r="2.6" fill="#2e8fa3"/><rect x="194" y="553" width="365" height="5.5" rx="2.75" fill="#efefef"/><rect x="194" y="553" width="128.60000000000002" height="5.5" rx="2.75" fill="#bdbdbd"/><line x1="623.5" y1="493.7" x2="983.5" y2="493.7" stroke="#e3e3e3" stroke-width="1"/><text x="616" y="496.9" font-size="9" fill="#6b6b6b" text-anchor="end">0</text><line x1="623.5" y1="452.6" x2="983.5" y2="452.6" stroke="#e3e3e3" stroke-width="1"/><text x="616" y="455.8" font-size="9" fill="#6b6b6b" text-anchor="end">500</text><line x1="623.5" y1="411.5" x2="983.5" y2="411.5" stroke="#e3e3e3" stroke-width="1"/><text x="616" y="414.7" font-size="9" fill="#6b6b6b" text-anchor="end">1000</text><text transform="translate(583.5 453.9) rotate(-90)" font-size="9.6" fill="#222" text-anchor="middle">VNĐ</text><text transform="translate(641.5 501) rotate(-90)" font-size="8.4" fill="#222" text-anchor="end">1/11/2022</text><text transform="translate(657.2 501) rotate(-90)" font-size="8.4" fill="#222" text-anchor="end">1/21/2022</text><text transform="translate(673.0 501) rotate(-90)" font-size="8.4" fill="#222" text-anchor="end">2/11/2022</text><text transform="translate(688.8 501) rotate(-90)" font-size="8.4" fill="#222" text-anchor="end">2/21/2022</text><text transform="translate(704.5 501) rotate(-90)" font-size="8.4" fill="#222" text-anchor="end">3/1/2022</text><text transform="translate(720.2 501) rotate(-90)" font-size="8.4" fill="#222" text-anchor="end">3/11/2022</text><text transform="translate(736.0 501) rotate(-90)" font-size="8.4" fill="#222" text-anchor="end">3/21/2022</text><text transform="translate(751.8 501) rotate(-90)" font-size="8.4" fill="#222" text-anchor="end">4/1/2022</text><text transform="translate(767.5 501) rotate(-90)" font-size="8.4" fill="#222" text-anchor="end">4/12/2022</text><text transform="translate(783.2 501) rotate(-90)" font-size="8.4" fill="#222" text-anchor="end">4/21/2022</text><text transform="translate(799.0 501) rotate(-90)" font-size="8.4" fill="#222" text-anchor="end">5/4/2022</text><text transform="translate(814.8 501) rotate(-90)" font-size="8.4" fill="#222" text-anchor="end">5/11/2022</text><text transform="translate(830.5 501) rotate(-90)" font-size="8.4" fill="#222" text-anchor="end">5/23/2022</text><text transform="translate(846.2 501) rotate(-90)" font-size="8.4" fill="#222" text-anchor="end">6/1/2022</text><text transform="translate(862.0 501) rotate(-90)" font-size="8.4" fill="#222" text-anchor="end">6/13/2022</text><text transform="translate(877.8 501) rotate(-90)" font-size="8.4" fill="#222" text-anchor="end">6/21/2022</text><text transform="translate(893.5 501) rotate(-90)" font-size="8.4" fill="#222" text-anchor="end">7/1/2022</text><text transform="translate(909.2 501) rotate(-90)" font-size="8.4" fill="#222" text-anchor="end">7/11/2022</text><text transform="translate(925.0 501) rotate(-90)" font-size="8.4" fill="#222" text-anchor="end">7/21/2022</text><text transform="translate(940.8 501) rotate(-90)" font-size="8.4" fill="#222" text-anchor="end">8/1/2022</text><text transform="translate(956.5 501) rotate(-90)" font-size="8.4" fill="#222" text-anchor="end">8/11/2022</text><text transform="translate(972.2 501) rotate(-90)" font-size="8.4" fill="#222" text-anchor="end">8/22/2022</text><text x="637.7" y="437.2" font-size="8.4" fill="#6b6b6b" text-anchor="middle">900</text><text x="654.2" y="467.6" font-size="8.4" fill="#6b6b6b" text-anchor="middle">200</text><text x="669.6" y="494.5" font-size="8.4" fill="#6b6b6b" text-anchor="middle">200</text><text x="685.8" y="462.6" font-size="8.4" fill="#6b6b6b" text-anchor="middle">250</text><text x="701.3" y="441.4" font-size="8.4" fill="#6b6b6b" text-anchor="middle">850</text><text x="701.3" y="490" font-size="8.4" fill="#6b6b6b" text-anchor="middle">250</text><text x="736.4" y="429" font-size="8.4" fill="#6b6b6b" text-anchor="middle">836</text><text x="937.8" y="441.4" font-size="8.4" fill="#6b6b6b" text-anchor="middle">850</text><text x="638.5" y="483.8" font-size="8.4" fill="#6b6b6b" text-anchor="middle">0</text><text x="654.2" y="483.8" font-size="8.4" fill="#6b6b6b" text-anchor="middle">0</text><text x="670.0" y="483.8" font-size="8.4" fill="#6b6b6b" text-anchor="middle">0</text><text x="685.8" y="483.8" font-size="8.4" fill="#6b6b6b" text-anchor="middle">0</text><text x="733.0" y="483.8" font-size="8.4" fill="#6b6b6b" text-anchor="middle">0</text><text x="748.8" y="483.8" font-size="8.4" fill="#6b6b6b" text-anchor="middle">0</text><text x="764.5" y="483.8" font-size="8.4" fill="#6b6b6b" text-anchor="middle">0</text><text x="780.2" y="483.8" font-size="8.4" fill="#6b6b6b" text-anchor="middle">0</text><text x="796.0" y="483.8" font-size="8.4" fill="#6b6b6b" text-anchor="middle">0</text><text x="811.8" y="483.8" font-size="8.4" fill="#6b6b6b" text-anchor="middle">0</text><text x="827.5" y="483.8" font-size="8.4" fill="#6b6b6b" text-anchor="middle">0</text><text x="843.2" y="483.8" font-size="8.4" fill="#6b6b6b" text-anchor="middle">0</text><text x="859.0" y="483.8" font-size="8.4" fill="#6b6b6b" text-anchor="middle">0</text><text x="874.8" y="483.8" font-size="8.4" fill="#6b6b6b" text-anchor="middle">0</text><text x="890.5" y="483.8" font-size="8.4" fill="#6b6b6b" text-anchor="middle">0</text><text x="906.2" y="483.8" font-size="8.4" fill="#6b6b6b" text-anchor="middle">0</text><text x="922.0" y="483.8" font-size="8.4" fill="#6b6b6b" text-anchor="middle">0</text><text x="953.5" y="483.8" font-size="8.4" fill="#6b6b6b" text-anchor="middle">0</text><text x="969.2" y="483.8" font-size="8.4" fill="#6b6b6b" text-anchor="middle">0</text><polyline points="638.5,419.7 654.2,493.7 670.0,493.7 685.8,493.7 701.5,423.8 717.2,425.0 733.0,493.7 748.8,493.7 764.5,493.7 780.2,493.7 796.0,493.7 811.8,493.7 827.5,493.7 843.2,493.7 859.0,493.7 874.8,493.7 890.5,493.7 906.2,493.7 922.0,493.7 937.8,423.8 953.5,493.7 969.2,493.7" fill="none" stroke="#d0505a" stroke-width="2.3" stroke-linejoin="round" stroke-linecap="round"/><circle cx="638.5" cy="419.7" r="2.6" fill="#2e8fa3"/><circle cx="654.2" cy="493.7" r="2.6" fill="#2e8fa3"/><circle cx="670.0" cy="493.7" r="2.6" fill="#2e8fa3"/><circle cx="685.8" cy="493.7" r="2.6" fill="#2e8fa3"/><circle cx="701.5" cy="423.8" r="2.6" fill="#2e8fa3"/><circle cx="717.2" cy="425.0" r="2.6" fill="#2e8fa3"/><circle cx="733.0" cy="493.7" r="2.6" fill="#2e8fa3"/><circle cx="748.8" cy="493.7" r="2.6" fill="#2e8fa3"/><circle cx="764.5" cy="493.7" r="2.6" fill="#2e8fa3"/><circle cx="780.2" cy="493.7" r="2.6" fill="#2e8fa3"/><circle cx="796.0" cy="493.7" r="2.6" fill="#2e8fa3"/><circle cx="811.8" cy="493.7" r="2.6" fill="#2e8fa3"/><circle cx="827.5" cy="493.7" r="2.6" fill="#2e8fa3"/><circle cx="843.2" cy="493.7" r="2.6" fill="#2e8fa3"/><circle cx="859.0" cy="493.7" r="2.6" fill="#2e8fa3"/><circle cx="874.8" cy="493.7" r="2.6" fill="#2e8fa3"/><circle cx="890.5" cy="493.7" r="2.6" fill="#2e8fa3"/><circle cx="906.2" cy="493.7" r="2.6" fill="#2e8fa3"/><circle cx="922.0" cy="493.7" r="2.6" fill="#2e8fa3"/><circle cx="937.8" cy="423.8" r="2.6" fill="#2e8fa3"/><circle cx="953.5" cy="493.7" r="2.6" fill="#2e8fa3"/><circle cx="969.2" cy="493.7" r="2.6" fill="#2e8fa3"/><polyline points="638.5,493.7 654.2,477.3 670.0,477.3 685.8,473.1 701.5,473.1 717.2,432.0 733.0,493.7 748.8,493.7 764.5,493.7 780.2,493.7 796.0,493.7 811.8,493.7 827.5,485.5 843.2,485.5 859.0,485.5 874.8,493.7 890.5,493.7 906.2,493.7 922.0,493.7" fill="none" stroke="#1f6b98" stroke-width="2.3" stroke-linejoin="round" stroke-linecap="round"/><circle cx="638.5" cy="493.7" r="2.6" fill="#2e8fa3"/><circle cx="654.2" cy="477.3" r="2.6" fill="#2e8fa3"/><circle cx="670.0" cy="477.3" r="2.6" fill="#2e8fa3"/><circle cx="685.8" cy="473.1" r="2.6" fill="#2e8fa3"/><circle cx="701.5" cy="473.1" r="2.6" fill="#2e8fa3"/><circle cx="717.2" cy="432.0" r="2.6" fill="#2e8fa3"/><circle cx="733.0" cy="493.7" r="2.6" fill="#2e8fa3"/><circle cx="748.8" cy="493.7" r="2.6" fill="#2e8fa3"/><circle cx="764.5" cy="493.7" r="2.6" fill="#2e8fa3"/><circle cx="780.2" cy="493.7" r="2.6" fill="#2e8fa3"/><circle cx="796.0" cy="493.7" r="2.6" fill="#2e8fa3"/><circle cx="811.8" cy="493.7" r="2.6" fill="#2e8fa3"/><circle cx="827.5" cy="485.5" r="2.6" fill="#2e8fa3"/><circle cx="843.2" cy="485.5" r="2.6" fill="#2e8fa3"/><circle cx="859.0" cy="485.5" r="2.6" fill="#2e8fa3"/><circle cx="874.8" cy="493.7" r="2.6" fill="#2e8fa3"/><circle cx="890.5" cy="493.7" r="2.6" fill="#2e8fa3"/><circle cx="906.2" cy="493.7" r="2.6" fill="#2e8fa3"/><circle cx="922.0" cy="493.7" r="2.6" fill="#2e8fa3"/><rect x="624" y="553" width="360" height="5.5" rx="2.75" fill="#efefef"/><rect x="624" y="553" width="126" height="5.5" rx="2.75" fill="#bdbdbd"/></svg>
</body></html>
